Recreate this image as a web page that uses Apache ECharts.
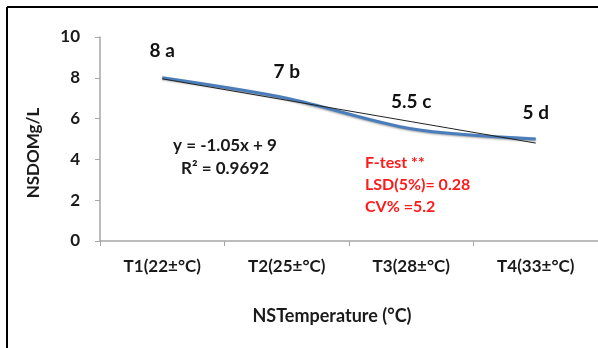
<!DOCTYPE html>
<html>
<head>
<meta charset="utf-8">
<script src="https://cdn.jsdelivr.net/npm/echarts@6/dist/echarts.min.js"></script>
<style>
  html, body { margin: 0; padding: 0; background: #fff; }
  #chart { width: 598px; height: 348px; }
</style>
</head>
<body>
<div id="chart"></div>
<script>
// Treatments along the x axis
const categories = ['T1(22±°C)', 'T2(25±°C)', 'T3(28±°C)', 'T4(33±°C)'];
// Mean NSDOM (g/L) for each treatment
const nsdom = [8, 7, 5.5, 5];
// Significance letters shown next to each mean
const groups = ['a', 'b', 'c', 'd'];
// Linear trend line y = -1.05x + 9 at each treatment
const trend = [7.95, 6.9, 5.85, 4.8];
// Y axis ticks
const yTicks = [0, 2, 4, 6, 8, 10];

const FONT = 'Lato, "Open Sans", sans-serif';
const chart = echarts.init(document.getElementById('chart'));

chart.setOption({
  backgroundColor: '#fff',
  animation: false,
  grid: { left: 100, right: 0, top: 37, bottom: 107 },
  xAxis: {
    type: 'category',
    data: categories,
    boundaryGap: true,
    axisLine: { lineStyle: { color: '#a6a6a6', width: 1.5 } },
    axisTick: { show: true, length: 5, lineStyle: { color: '#a6a6a6' } },
    axisLabel: { color: '#1a1a1a', fontFamily: FONT, fontSize: 17, fontWeight: 'bold', margin: 17 },
    name: 'NSTemperature (°C)',
    nameLocation: 'middle',
    nameGap: 66,
    nameTextStyle: { color: '#1a1a1a', fontFamily: FONT, fontSize: 18, fontWeight: 'bold', padding: [0, 34, 0, 0] }
  },
  yAxis: {
    type: 'value',
    min: yTicks[0],
    max: yTicks[yTicks.length - 1],
    interval: 2,
    axisLine: { show: true, lineStyle: { color: '#a6a6a6', width: 1.5 } },
    axisTick: { show: true, length: 5, lineStyle: { color: '#a6a6a6' } },
    splitLine: { show: false },
    axisLabel: { color: '#1a1a1a', fontFamily: FONT, fontSize: 17, fontWeight: 'bold', margin: 20 }
  },
  series: [
    {
      type: 'line',
      data: trend,
      symbol: 'none',
      z: 3,
      lineStyle: { color: '#222', width: 1 }
    },
    {
      type: 'line',
      data: nsdom,
      smooth: 0.3,
      symbol: 'circle',
      symbolSize: 0.1,
      z: 2,
      lineStyle: {
        color: '#4a7ebb', width: 3,
        shadowColor: 'rgba(0,0,0,0.35)', shadowBlur: 2, shadowOffsetY: 1
      },
      label: {
        show: true,
        position: 'top',
        distance: 17,
        color: '#111',
        fontFamily: FONT,
        fontSize: 19,
        fontWeight: 'bold',
        formatter: p => p.value + ' ' + groups[p.dataIndex]
      }
    }
  ],
  graphic: [
    // frame lines on the top and left
    { type: 'line', shape: { x1: 7, y1: 7, x2: 598, y2: 7 }, style: { stroke: '#000', lineWidth: 2 } },
    { type: 'line', shape: { x1: 7, y1: 7, x2: 7, y2: 348 }, style: { stroke: '#000', lineWidth: 2 } },
    {
      type: 'text', x: 34, y: 153, rotation: Math.PI / 2,
      style: { text: 'NSDOMg/L', fill: '#1a1a1a', font: 'bold 17px ' + FONT, align: 'center', verticalAlign: 'middle' }
    },
    {
      type: 'text', x: 225, y: 146,
      style: { text: 'y = -1.05x + 9', fill: '#1a1a1a', font: 'bold 17px ' + FONT, align: 'center', verticalAlign: 'middle' }
    },
    {
      type: 'text', x: 225, y: 169,
      style: { text: 'R² = 0.9692', fill: '#1a1a1a', font: 'bold 17px ' + FONT, align: 'center', verticalAlign: 'middle' }
    },
    {
      type: 'text', x: 365, y: 163,
      style: { text: 'F-test **', fill: '#ff1a1a', font: 'bold 16px ' + FONT, align: 'left', verticalAlign: 'middle' }
    },
    {
      type: 'text', x: 365, y: 185,
      style: { text: 'LSD(5%)= 0.28', fill: '#ff1a1a', font: 'bold 16px ' + FONT, align: 'left', verticalAlign: 'middle' }
    },
    {
      type: 'text', x: 365, y: 207,
      style: { text: 'CV% =5.2', fill: '#ff1a1a', font: 'bold 16px ' + FONT, align: 'left', verticalAlign: 'middle' }
    }
  ]
});
</script>
</body>
</html>
